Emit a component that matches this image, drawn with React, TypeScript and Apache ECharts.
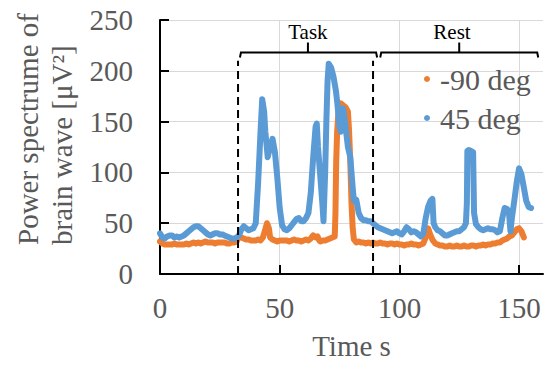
import React, { useEffect, useRef } from "react";
import * as echarts from "echarts";

const FONT = '"Liberation Serif", "Times New Roman", serif';

const SERIES_NAMES = ["-90 deg", "45 deg"];
const X_TICKS = [0, 50, 100, 150];

// 45 deg (blue)
const T_45 = [0,1,2,3,4,5,6,7,8,9,10,11,12,13,14,15,16,17,18,19,20,21,22,23,24,25,26,27,28,29,30,31,32,33,34,35,36,37,38,39,40,41,42,42.7,43.5,44,45,46,47,48,49,50,51,52,53,54,55,56,57,58,59,60,61,62,63,64,65,65.5,66,67,67.8,68.3,69,69.5,70,70.5,71.5,72.5,73.5,74,75,75.5,76.5,77.5,78.5,79.5,80.5,81,82,83,84,85,86,87,88,89,90,91,92,93,94,95,96,97,98,99,100,101,102,103,104,105,106,107,108,109,110,111,112,113,113.8,114.3,115,116,117,118,119,120,121,122,123,124,125,126,127,127.8,128.2,128.4,129,130,130.8,131.2,132,133,134,135,136,137,138,139,140,141,142,143,144,145,145.8,146.4,147,148,149,150,151,152,153,154,155];
const V_45 = [40,36,35,37,38,38,36,37,36,37,38,40,42,44,46,47,47,45,43,41,39,38,39,40,40,39,39,38,37,36,35,35,36,38,44,47,45,43,44,45,50,90,140,172,160,140,115,125,133,120,95,65,48,44,43,45,48,51,54,55,52,52,55,60,80,115,145,148,125,95,70,52,100,150,190,207,203,194,180,170,145,140,163,145,125,115,85,72,73,60,55,53,53,52,52,50,48,46,45,44,43,42,41,40,41,42,40,39,42,46,44,41,42,41,39,37,40,55,66,72,74,50,46,43,42,40,38,38,39,40,41,42,42,44,46,50,70,121,122,121,120,60,49,46,44,43,44,45,44,44,43,41,42,55,65,64,60,42,55,72,90,104,98,85,72,66,65];

// -90 deg (orange)
const T_90 = [0,1,2,3,4,5,6,7,8,9,10,11,12,13,14,15,16,17,18,19,20,21,22,23,24,25,26,27,28,29,30,31,32,33,34,35,36,37,38,39,40,41,42,43,44,44.7,45.5,46,47,48,49,50,51,52,53,54,55,56,57,58,59,60,61,62,63,64,65,65.8,66.5,67,68,69,70,71,72,73,73.3,73.6,74,74.5,75.5,76.5,77.5,78.5,79,79.5,80,80.5,81,82,83,84,85,86,87,88,89,90,91,92,93,94,95,96,97,98,99,100,101,102,103,104,105,106,107,108,109,110,111,112,113,114,115,116,117,118,119,120,121,122,123,124,125,126,127,128,129,130,131,132,133,134,135,136,137,138,139,140,141,142,143,144,145,146,147,148,149,150,151,152,153,154,154.5];
const V_90 = [32,30,29,29,29,29,30,29,29,29,29,30,29,30,31,30,31,30,31,32,31,31,31,30,31,31,31,31,30,30,31,31,32,37,36,35,34,34,33,33,33,34,33,36,44,50,45,36,34,33,32,33,33,33,33,32,33,34,33,33,32,33,34,33,35,38,36,37,33,32,33,33,34,35,36,37,60,110,140,158,168,166,164,160,140,110,70,45,34,31,32,31,31,30,31,30,31,30,30,31,30,30,29,30,30,29,30,29,29,28,29,29,30,29,29,28,29,30,36,45,38,33,30,29,28,28,27,27,28,27,27,28,27,27,28,27,27,28,28,27,28,28,29,28,29,29,30,30,31,31,33,34,35,37,38,41,44,45,42,36];

const BRACKET_Y = 218;
const DASH_TOP = 210;
const DASH_X = [32.6, 89.0];
const TASK_SPAN = [33.4, 90.7];
const REST_SPAN = [92.0, 158.0];
const TASK_CENTER = 61.8;
const REST_CENTER = 125.0;
const REST_LABEL_X = 122.0;

export default function App() {
  const ref = useRef<HTMLDivElement>(null);
  useEffect(() => {
    if (!ref.current) return;
    const chart = echarts.init(ref.current, null, { renderer: "svg" });
    const labelStyle = { color: "#595959", fontSize: 29, fontFamily: FONT };
    chart.setOption({
      animation: false,
      backgroundColor: "#ffffff",
      grid: { left: 160, right: 10, top: 20, bottom: 95, containLabel: false },
      legend: {
        data: SERIES_NAMES,
        orient: "vertical",
        left: 424,
        top: 64,
        padding: 0,
        icon: "circle",
        itemWidth: 6,
        itemHeight: 6,
        itemGap: 9,
        itemStyle: { borderWidth: 0 },
        textStyle: { color: "#595959", fontSize: 30, fontFamily: FONT, lineHeight: 30, padding: [0, 0, 0, 5] },
      },
      xAxis: {
        type: "value",
        min: 0,
        max: 160,
        interval: 50,
        axisLine: { show: true, lineStyle: { color: "#000", width: 2 } },
        axisTick: { show: true, inside: true, length: 9, lineStyle: { color: "#000", width: 2 }, customValues: X_TICKS },
        axisLabel: { ...labelStyle, margin: 19, customValues: X_TICKS },
        splitLine: { show: true, lineStyle: { color: "#d9d9d9", width: 1 } },
        name: "Time s",
        nameLocation: "middle",
        nameGap: 57,
        nameTextStyle: { ...labelStyle },
      },
      yAxis: {
        type: "value",
        min: 0,
        max: 250,
        interval: 50,
        axisLine: { show: true, lineStyle: { color: "#000", width: 2 } },
        axisTick: { show: true, inside: true, length: 9, lineStyle: { color: "#000", width: 2 } },
        axisLabel: { ...labelStyle, margin: 27 },
        splitLine: { show: true, lineStyle: { color: "#d9d9d9", width: 1 } },
      },
      series: [
        {
          name: SERIES_NAMES[0],
          type: "line",
          data: T_90.map((t, i) => [t, V_90[i]]),
          showSymbol: false,
          symbol: "circle",
          color: "#ED7D31",
          lineStyle: { width: 6, color: "#ED7D31", join: "round", cap: "round" },
          z: 2,
        },
        {
          name: SERIES_NAMES[1],
          type: "line",
          data: T_45.map((t, i) => [t, V_45[i]]),
          showSymbol: false,
          symbol: "circle",
          color: "#5B9BD5",
          lineStyle: { width: 6, color: "#5B9BD5", join: "round", cap: "round" },
          z: 3,
        },
      ],
    });

    const p = (x: number, y: number) => chart.convertToPixel({ gridIndex: 0 }, [x, y]) as number[];
    const line = (pts: number[][], extra: any = {}) => ({
      type: "polyline",
      shape: { points: pts },
      style: { stroke: "#000", lineWidth: 2, fill: null, ...extra },
      z: 10,
    });
    const g: any[] = [];
    DASH_X.forEach((dx) => {
      g.push(line([p(dx, 0), p(dx, DASH_TOP)], { lineDash: [8, 5] }));
    });
    const bracket = (span: number[], center: number) => {
      const a = p(span[0], BRACKET_Y);
      const b = p(span[1], BRACKET_Y);
      const c = p(center, BRACKET_Y);
      g.push(line([[a[0], a[1] + 5], [a[0] + 1, a[1]], [b[0] - 1, b[1]], [b[0], b[1] + 5]]));
      g.push(line([[c[0], c[1]], [c[0], c[1] - 10]]));
    };
    bracket(TASK_SPAN, TASK_CENTER);
    bracket(REST_SPAN, REST_CENTER);
    const tp = p(TASK_CENTER, BRACKET_Y);
    const rp = p(REST_LABEL_X, BRACKET_Y);
    g.push({ type: "text", x: tp[0], y: tp[1] - 21, style: { text: "Task", fill: "#000", fontSize: 21, fontFamily: FONT, align: "center", verticalAlign: "middle" }, z: 10 });
    g.push({ type: "text", x: rp[0], y: rp[1] - 21, style: { text: "Rest", fill: "#000", fontSize: 21, fontFamily: FONT, align: "center", verticalAlign: "middle" }, z: 10 });
    g.push({ type: "text", x: 28, y: 245, rotation: Math.PI / 2, style: { text: "Power spectrume of", fill: "#595959", fontSize: 29, fontFamily: FONT, align: "left", verticalAlign: "middle" } });
    g.push({ type: "text", x: 62, y: 245, rotation: Math.PI / 2, style: { text: "brain wave [μV²]", fill: "#595959", fontSize: 29, fontFamily: FONT, align: "left", verticalAlign: "middle" } });
    chart.setOption({ graphic: g });

    return () => chart.dispose();
  }, []);
  return <div ref={ref} style={{ position: "fixed", left: 0, top: 0, width: 553, height: 369 }} />;
}
